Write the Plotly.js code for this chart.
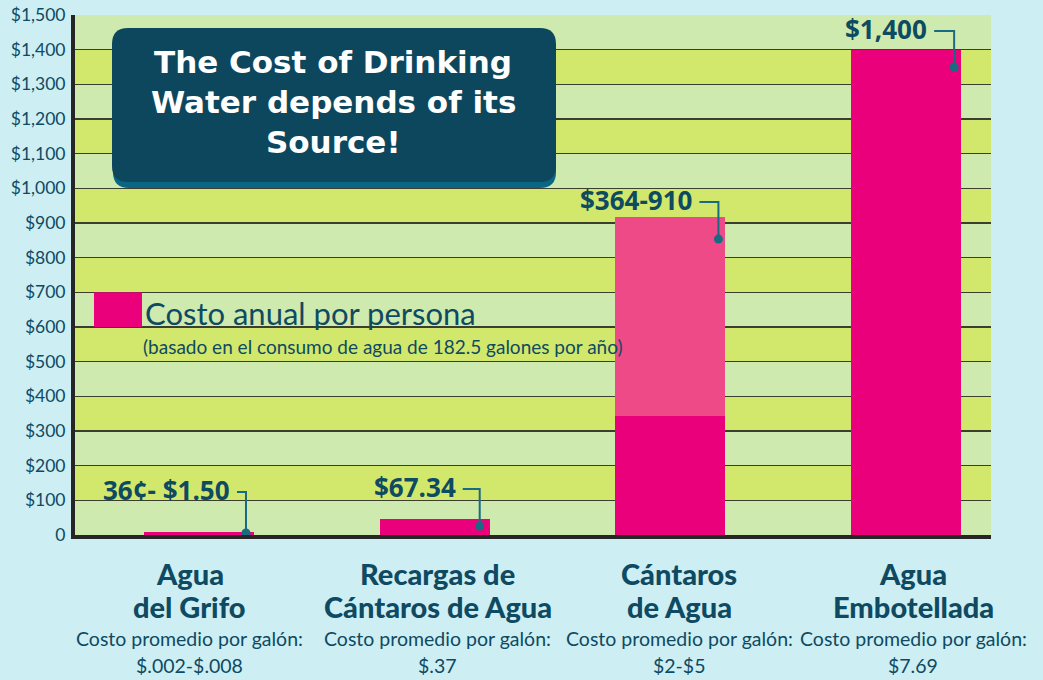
<!DOCTYPE html>
<html>
<head>
<meta charset="utf-8">
<script src="https://cdn.plot.ly/plotly-3.0.1.min.js"></script>
<style>
  html, body { margin: 0; padding: 0; background: #cdeef3; }
  #chart { width: 1043px; height: 680px; }
</style>
</head>
<body>
<div id="chart"></div>
<script>
// ---- DATA ----
const categories = ['Agua del Grifo', 'Recargas de Cántaros de Agua', 'Cántaros de Agua', 'Agua Embotellada'];
const catLine1 = ['Agua', 'Recargas de', 'Cántaros', 'Agua'];
const catLine2 = ['del Grifo', 'Cántaros de Agua', 'de Agua', 'Embotellada'];
const perGallonLabel = 'Costo promedio por galón:';
const perGallon = ['$.002-$.008', '$.37', '$2-$5', '$7.69'];
const annualLow = [9, 46, 343, 1399];          // solid bar (as drawn)
const annualRangeExtra = [0, 0, 574, 0];       // lighter upper part of range
const calloutText = ['36¢- $1.50', '$67.34', '$364-910', '$1,400'];
const yTickVals = [0, 100, 200, 300, 400, 500, 600, 700, 800, 900, 1000, 1100, 1200, 1300, 1400, 1500];
const yTickText = ['0', '$100', '$200', '$300', '$400', '$500', '$600', '$700', '$800', '$900',
                   '$1,000', '$1,100', '$1,200', '$1,300', '$1,400', '$1,500'];
const legendTitle = 'Costo anual por persona';
const legendSub = '(basado en el consumo de agua de 182.5 galones por año)';
const titleLines = ['The Cost of Drinking', 'Water depends of its', 'Source!'];

// ---- STYLE ----
const TEXT = '#0e4a62';
const TEAL = '#176c84';
const PINK = '#ea007b';
const PINK_LIGHT = '#ef4a88';
const BAND_LIGHT = '#cfeaae';
const BAND_YELLOW = '#d1e86c';
const BG = '#cdeef3';
// callout geometry in pixels relative to bar center / bar top
const callout = [
  {dx: 47, hy: 40, dy: -1, len: 9},
  {dx: 45, hy: 30, dy: -7, len: 17},
  {dx: 48, hy: 15, dy: -22, len: 19},
  {dx: 48, hy: 19, dy: -17, len: 20}
];
const labelShift = [-9, 3, 9, 7];
const BAR_W = 0.467;

const totals = annualLow.map((v, i) => v + annualRangeExtra[i]);

const traces = [
  {type: 'bar', x: categories, y: annualLow, width: BAR_W, marker: {color: PINK, line: {width: 0}},
   hoverinfo: 'skip', showlegend: false},
  {type: 'bar', x: categories, y: annualRangeExtra, width: BAR_W, marker: {color: PINK_LIGHT, line: {width: 0}},
   hoverinfo: 'skip', showlegend: false}
];

const shapes = [];
// alternating bands
for (let k = 0; k < yTickVals.length - 1; k++) {
  if (k % 2 === 1) {
    shapes.push({type: 'rect', layer: 'below', xref: 'paper', x0: 0, x1: 1, yref: 'y',
      y0: yTickVals[k], y1: yTickVals[k + 1], fillcolor: BAND_YELLOW, line: {width: 0}});
  }
}

function roundRect(x0, yTop, x1, yBot, r) {
  return `M ${x0 + r},${yTop} L ${x1 - r},${yTop} Q ${x1},${yTop} ${x1},${yTop - r} ` +
         `L ${x1},${yBot + r} Q ${x1},${yBot} ${x1 - r},${yBot} L ${x0 + r},${yBot} ` +
         `Q ${x0},${yBot} ${x0},${yBot + r} L ${x0},${yTop - r} Q ${x0},${yTop} ${x0 + r},${yTop} Z`;
}
shapes.push({type: 'path', layer: 'above', xref: 'paper', yref: 'paper', xsizemode: 'pixel', ysizemode: 'pixel',
  xanchor: 0, yanchor: 1, path: roundRect(38, -19, 481, -173, 16), fillcolor: '#0a6682', line: {width: 0}});
shapes.push({type: 'path', layer: 'above', xref: 'paper', yref: 'paper', xsizemode: 'pixel', ysizemode: 'pixel',
  xanchor: 0, yanchor: 1, path: roundRect(37, -13, 481, -167, 16), fillcolor: '#0d475e', line: {width: 0}});

// legend square
shapes.push({type: 'rect', layer: 'above', xref: 'paper', yref: 'y', xsizemode: 'pixel', xanchor: 0,
  x0: 19, x1: 67, y0: 600, y1: 700, fillcolor: PINK, line: {width: 0}});

const annotations = [];
categories.forEach((c, i) => {
  const g = callout[i];
  shapes.push({type: 'path', layer: 'above', xref: 'x', yref: 'y', xsizemode: 'pixel', ysizemode: 'pixel',
    xanchor: i, yanchor: totals[i],
    path: `M ${g.dx - g.len},${g.hy} L ${g.dx},${g.hy} L ${g.dx},${g.dy}`,
    line: {color: TEAL, width: 2}});
  shapes.push({type: 'circle', layer: 'above', xref: 'x', yref: 'y', xsizemode: 'pixel', ysizemode: 'pixel',
    xanchor: i, yanchor: totals[i], x0: g.dx - 4.5, x1: g.dx + 4.5, y0: g.dy - 4.5, y1: g.dy + 4.5,
    fillcolor: TEAL, line: {width: 0}});
  annotations.push({xref: 'x', yref: 'y', x: i, y: totals[i], xanchor: 'right', yanchor: 'middle',
    xshift: g.dx - g.len - 5, yshift: g.hy + 2, showarrow: false, text: '<b>' + calloutText[i] + '</b>',
    font: {family: 'Open Sans', size: 26, color: TEXT}});
  const cx = labelShift[i];
  annotations.push({xref: 'x', yref: 'paper', x: i, y: 0, xshift: cx, yshift: -38, yanchor: 'middle',
    showarrow: false, text: catLine1[i], font: {family: 'Lato', size: 29, weight: 900, color: TEXT}});
  annotations.push({xref: 'x', yref: 'paper', x: i, y: 0, xshift: cx, yshift: -71, yanchor: 'middle',
    showarrow: false, text: catLine2[i], font: {family: 'Lato', size: 29, weight: 900, color: TEXT}});
  annotations.push({xref: 'x', yref: 'paper', x: i, y: 0, xshift: cx, yshift: -103, yanchor: 'middle',
    showarrow: false, text: perGallonLabel, font: {family: 'Lato', size: 19.5, color: TEXT}});
  annotations.push({xref: 'x', yref: 'paper', x: i, y: 0, xshift: cx, yshift: -130, yanchor: 'middle',
    showarrow: false, text: perGallon[i], font: {family: 'Lato', size: 19.5, color: TEXT}});
});

// title lines
titleLines.forEach((t, k) => {
  annotations.push({xref: 'paper', yref: 'paper', x: 0, y: 1, xshift: 258, yshift: -(47 + 40 * k),
    xanchor: 'center', yanchor: 'middle', showarrow: false, text: t,
    font: {family: 'DejaVu Sans', size: 31, weight: 700, color: '#ffffff'}});
});
// legend text
annotations.push({xref: 'paper', yref: 'y', x: 0, y: 640, xshift: 68, xanchor: 'left', yanchor: 'middle',
  showarrow: false, text: legendTitle, font: {family: 'Lato', size: 31, color: TEXT}});
annotations.push({xref: 'paper', yref: 'y', x: 0, y: 545, xshift: 66, xanchor: 'left', yanchor: 'middle',
  showarrow: false, text: legendSub, font: {family: 'Lato', size: 19, color: TEXT}});

const layout = {
  width: 1043, height: 680,
  margin: {l: 75, r: 52, t: 15, b: 145, pad: 0},
  paper_bgcolor: BG, plot_bgcolor: BAND_LIGHT,
  barmode: 'stack', bargap: 0,
  showlegend: false,
  xaxis: {type: 'category', range: [-0.526, 3.36], showticklabels: false, ticks: '', showgrid: false,
    zeroline: false, showline: true, linecolor: '#262626', linewidth: 4, fixedrange: true},
  yaxis: {range: [0, 1500], tickvals: yTickVals, ticktext: yTickText, ticks: '', ticklabelstandoff: 2,
    tickfont: {family: 'Lato', size: 17.5, color: TEXT}, showgrid: true, gridcolor: '#3b3f30', gridwidth: 1.5,
    zeroline: false, showline: true, linecolor: '#262626', linewidth: 4, fixedrange: true},
  shapes: shapes,
  annotations: annotations
};

Plotly.newPlot('chart', traces, layout, {displayModeBar: false, staticPlot: true});
</script>
</body>
</html>
